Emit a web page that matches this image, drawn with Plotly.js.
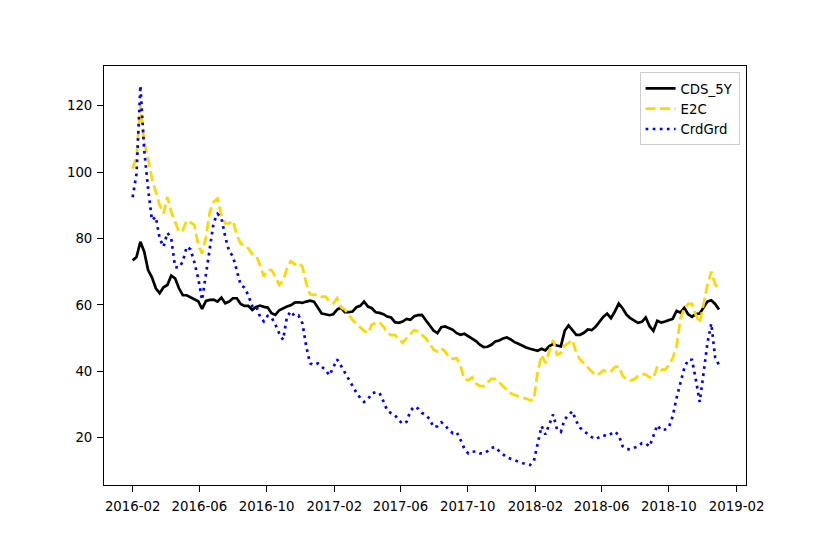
<!DOCTYPE html>
<html>
<head>
<meta charset="utf-8">
<script src="https://cdn.plot.ly/plotly-3.0.1.min.js"></script>
<style>html,body{margin:0;padding:0;background:#fff;}#chart{width:830px;height:554px;}</style>
</head>
<body>
<div id="chart"></div>
<script>
// Weekly observations starting 2016-02-01
const startDate = '2016-02-01';
const stepDays = 7;

const cds5y = [73.4,74.4,79.0,76.0,70.5,68.3,65.0,63.5,65.3,66.0,
68.8,68.0,65.0,62.9,62.9,62.3,61.7,61.1,58.8,61.2,
61.5,61.6,61.0,62.2,60.5,61.0,62.0,62.0,60.3,59.7,
59.7,58.5,59.4,59.8,59.4,59.2,57.5,57.0,58.4,59.0,
59.5,59.9,60.7,60.8,60.6,61.0,61.3,61.0,59.0,57.4,
57.2,56.9,57.2,58.6,59.2,57.8,57.8,58.0,59.3,59.7,
61.0,59.5,59.0,57.8,57.6,57.2,56.5,56.2,54.8,54.6,
55.0,55.8,55.5,56.6,56.9,57.0,55.4,54.0,52.3,51.5,
53.3,53.5,53.0,52.5,51.5,51.0,51.3,50.5,49.9,49.1,
48.0,47.3,47.4,48.0,49.0,49.3,49.9,50.2,49.6,48.8,
48.3,47.7,47.2,46.8,46.5,46.2,46.8,46.3,47.6,48.2,
47.8,47.5,52.2,53.8,52.4,51.0,51.0,51.6,52.6,52.4,
53.4,55.0,56.4,57.4,56.0,58.0,60.4,59.0,57.1,56.0,
55.2,54.6,54.9,56.2,53.6,52.2,55.2,54.7,55.0,55.3,
55.8,58.2,57.7,59.1,57.2,56.4,57.3,57.4,59.3,61.0,
61.4,60.3,58.6];

const e2c = [101,104.5,120,109,104,98,94,90,87.5,92.5,
88,85,82,82.5,85.4,84.8,84,78,75.5,80.5,
88,91,92,87,84.5,84.5,85.3,81,78.5,77.8,
77,75.3,75,72,68.6,70.5,70.5,68.5,66,67.3,
71,73.2,72.2,72.7,71.5,66.5,63.2,63.0,63.2,62.5,
62.5,61,60.5,62.0,59.3,58.6,57,55.5,54.3,53.2,
52.2,51.5,54,54.6,54.8,53.5,51.6,50.9,50.9,49.8,
48.6,50,51.3,52.4,52,51,49.9,48.3,46.5,46,
47,46,44.2,43.8,44,41.5,37.7,37.3,38.2,36.3,
35.6,35.6,36.8,37.8,37.7,36.8,35.5,34.3,33.4,32.9,
32.4,32.1,31.8,31.3,31.5,40,45,42.5,46,49.5,
45,45.5,47.8,48.5,49.5,45.5,43.5,42.3,41.2,40,
38.8,39.3,40.3,39.8,40,41.3,41.5,38.7,37.6,37.3,
37.6,38.6,39.3,39,38.2,38,41.5,40.5,40.5,41.8,
44,47.4,56,58.8,60.3,60.3,57,54.5,60.4,66,
70,66.2,64.6];

const crdGrd = [92.4,99.5,126,106.5,95,85.5,86.5,80,77.5,81.7,
80,71.4,71.2,73,77.5,76.7,72.8,68,61.5,69,
77.3,84.8,87.4,86.2,80.5,76.2,74.6,70,66,65.2,
62.8,59.6,59.8,56.5,55,56.7,56.2,54.1,51.4,49.5,
56.4,58.1,56.6,56.8,54.5,47.5,42.4,41.9,42.4,41.4,
40.4,38.8,41,43.6,41.7,39.7,37.6,35.4,33.6,32,
30.8,31.6,33.4,33.7,33.5,31,28.2,27.4,26.8,25.3,
24.2,24.8,28.1,29.4,28.8,27.5,26.8,25.6,23.2,23.5,
24.7,23.8,22.3,21.4,21.7,19.4,16.7,15.3,15.8,15.9,
15.3,15.3,16,17,17.2,16,14.9,14.1,13.7,13.2,
12.8,12.4,12.1,11.8,13,18.5,23.5,21,24,27,
22.6,21.8,25.6,26.8,28,25,23,22,21,20.2,
19.6,20.2,20.8,20.5,21.2,21.9,20.8,17.5,16.6,16.5,
17,17.4,18.4,18.3,17.4,20.5,23.8,22.3,22.5,23.2,
26.5,32,36.8,41,43.5,43.5,37.5,30.8,39.5,48.5,
54.4,44.2,41.9];

const seriesNames = ['CDS_5Y', 'E2C', 'CrdGrd'];
const yTickVals = [20, 40, 60, 80, 100, 120];

const t0 = Date.parse(startDate + 'T00:00:00Z');
const dates = cds5y.map((_, i) => new Date(t0 + i * stepDays * 86400000).toISOString().slice(0, 10));

const font = {family: 'DejaVu Sans, sans-serif', size: 13.3, color: '#000'};

const traces = [
  {x: dates, y: cds5y, name: seriesNames[0], mode: 'lines', line: {color: '#000000', width: 2.7}},
  {x: dates, y: e2c, name: seriesNames[1], mode: 'lines', line: {color: '#FFD700', width: 2.7, dash: '10px,4.5px'}},
  {x: dates, y: crdGrd, name: seriesNames[2], mode: 'lines', line: {color: '#0000FF', width: 2.7, dash: '2.7px,4.4px'}}
];

const layout = {
  width: 830, height: 554,
  margin: {l: 104, r: 84, t: 66, b: 69},
  paper_bgcolor: '#fff', plot_bgcolor: '#fff',
  font: font,
  showlegend: true,
  legend: {x: 0.99, y: 0.985, xanchor: 'right', yanchor: 'top', bgcolor: '#fff', bordercolor: '#cccccc', borderwidth: 1, font: font, tracegroupgap: 0, itemwidth: 30},
  xaxis: {
    type: 'date', range: ['2015-12-11', '2019-02-18'],
    tick0: '2016-02-01', dtick: 'M4', tickformat: '%Y-%m',
    showgrid: false, zeroline: false,
    showline: true, linecolor: '#000', linewidth: 1, mirror: true,
    ticks: 'outside', ticklen: 6, tickwidth: 1, tickcolor: '#000',
    ticklabelstandoff: 3,
    tickfont: font
  },
  yaxis: {
    range: [5.8, 131.9], tickvals: yTickVals,
    showgrid: false, zeroline: false,
    showline: true, linecolor: '#000', linewidth: 1, mirror: true,
    ticks: 'outside', ticklen: 6, tickwidth: 1, tickcolor: '#000',
    ticklabelstandoff: 2,
    tickfont: font
  }
};

Plotly.newPlot('chart', traces, layout, {displayModeBar: false, staticPlot: true});
</script>
</body>
</html>
